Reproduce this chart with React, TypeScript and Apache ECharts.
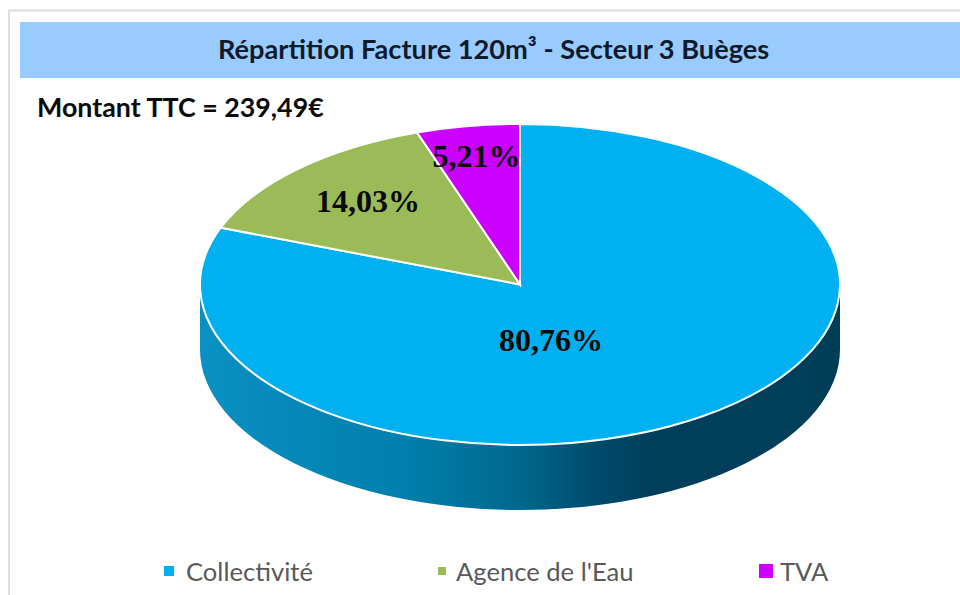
import React, { useEffect, useRef } from "react";
import * as echarts from "echarts";

const categories = ["Collectivité", "Agence de l'Eau", "TVA"];
const shares = [80.76, 14.03, 5.21];
const titleText = "Répartition Facture 120m³ - Secteur 3 Buèges";
const amountText = "Montant TTC = 239,49€";

const colors = ["#00B0F0", "#9BBB59", "#CC00FF"];
const labelCentres = [[551, 340], [368, 201], [476.5, 156]];
const legendLefts = [164, 438, 759];
const legendMarkers = [10, 8, 14];
const legendTextPad = [7, 5, 2];

const CX = 520, CY = 284.5, RX = 320, RY = 160.5, DEPTH = 65;

function pt(frac: number) {
  const t = frac * Math.PI * 2;
  return [CX + RX * Math.sin(t), CY - RY * Math.cos(t)];
}

function makeRender(i: number) {
  return (_params: any, api: any) => {
    const total = shares.reduce((a, b) => a + b, 0);
    const before = shares.slice(0, i).reduce((a, b) => a + b, 0);
    const value = api.value(0);
    const f0 = before / total;
    const f1 = (before + value) / total;
    const [x0, y0] = pt(f0);
    const [x1, y1] = pt(f1);
    const large = f1 - f0 > 0.5 ? 1 : 0;
    const children: any[] = [];
    if (i === 0) {
      children.push({
        type: "path",
        shape: {
          pathData: `M${CX - RX} ${CY}L${CX - RX} ${CY + DEPTH}A${RX} ${RY} 0 0 0 ${CX + RX} ${CY + DEPTH}L${CX + RX} ${CY}A${RX} ${RY} 0 0 1 ${CX - RX} ${CY}Z`,
        },
        style: {
          fill: new echarts.graphic.LinearGradient(0, 0, 1, 0, [
            { offset: 0, color: "#0A90C2" },
            { offset: 0.32, color: "#007FAD" },
            { offset: 0.5, color: "#00688C" },
            { offset: 0.62, color: "#004A6C" },
            { offset: 0.7, color: "#003F5C" },
            { offset: 1, color: "#003E58" },
          ]),
        },
      });
    }
    children.push({
      type: "path",
      shape: {
        pathData: `M${CX} ${CY}L${x0} ${y0}A${RX} ${RY} 0 ${large} 1 ${x1} ${y1}Z`,
      },
      style: { fill: colors[i], stroke: "#FFFFFF", lineWidth: 2 },
    });
    children.push({
      type: "text",
      z2: 10,
      style: {
        text: value.toFixed(2).replace(".", ",") + "%",
        x: labelCentres[i][0],
        y: labelCentres[i][1],
        align: "center",
        verticalAlign: "middle",
        fill: "#0A0A0A",
        font: 'bold 32px "Liberation Serif"',
      },
    });
    return { type: "group", children };
  };
}

export default function App() {
  const ref = useRef<HTMLDivElement>(null);
  useEffect(() => {
    const chart = echarts.init(ref.current!, null, { renderer: "svg" });
    chart.setOption({
      animation: false,
      backgroundColor: "#FFFFFF",
      title: [
        {
          text: titleText,
          left: 218,
          top: 35,
          padding: 0,
          textStyle: { fontFamily: "Lato", fontWeight: "bold", fontSize: 27.2, color: "#0F1A2B" },
        },
        {
          text: amountText,
          left: 37,
          top: 93,
          padding: 0,
          textStyle: { fontFamily: "Lato", fontWeight: "bold", fontSize: 26.8, color: "#0A0A0A" },
        },
      ],
      legend: categories.map((name, i) => ({
        data: [name],
        left: legendLefts[i],
        top: 558,
        padding: 0,
        icon: "rect",
        itemWidth: legendMarkers[i],
        itemHeight: legendMarkers[i],
        selectedMode: false,
        textStyle: {
          fontFamily: "Lato",
          fontSize: 25.6,
          color: "#595959",
          padding: [0, 0, 0, legendTextPad[i]],
        },
      })),
      graphic: [
        { type: "line", z: -2, shape: { x1: 9, y1: 10.5, x2: 960, y2: 10.5 }, style: { stroke: "#DDDDE3", lineWidth: 2 } },
        { type: "line", z: -2, shape: { x1: 9, y1: 10, x2: 9, y2: 595 }, style: { stroke: "#DDDDE3", lineWidth: 2 } },
        { type: "rect", z: -1, shape: { x: 20, y: 22, width: 940, height: 56 }, style: { fill: "#99CBFF" } },
      ],
      series: categories.map((name, i) => ({
        type: "custom",
        name,
        coordinateSystem: "none",
        itemStyle: { color: colors[i] },
        data: [[shares[i]]],
        renderItem: makeRender(i),
      })),
    });
    return () => chart.dispose();
  }, []);
  return <div ref={ref} style={{ position: "fixed", left: 0, top: 0, width: 960, height: 595 }} />;
}
